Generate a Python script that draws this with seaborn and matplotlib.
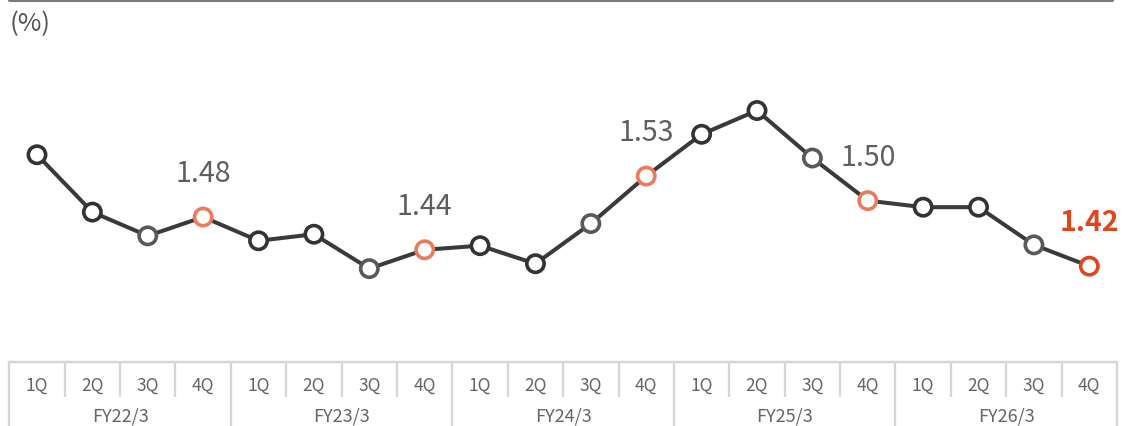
import numpy as np
import pandas as pd
import matplotlib
matplotlib.use("Agg")
import matplotlib.pyplot as plt
from matplotlib.lines import Line2D
import seaborn as sns

# Quarterly ratio (%), FY22/3 1Q through FY26/3 4Q
fiscal_years = ["FY22/3", "FY23/3", "FY24/3", "FY25/3", "FY26/3"]
quarters = ["1Q", "2Q", "3Q", "4Q"]
ratio = [1.556, 1.486, 1.457, 1.48,
         1.451, 1.459, 1.417, 1.44,
         1.445, 1.423, 1.472, 1.53,
         1.581, 1.610, 1.552, 1.50,
         1.492, 1.492, 1.446, 1.42]
# value labels shown above each fiscal year's 4Q point
labelled_values = {3: "1.48", 7: "1.44", 11: "1.53", 15: "1.50", 19: "1.42"}

sns.set_theme(style="white")
plt.rcParams["font.family"] = ["Noto Sans CJK JP", "DejaVu Sans"]

W, H, DPI = 1126, 427, 100
fig = plt.figure(figsize=(W / DPI, H / DPI), dpi=DPI)

n = len(ratio)
df = pd.DataFrame({"idx": np.arange(n), "ratio": ratio})

x0, x1 = 9.3 / W, 1117 / W
ax = fig.add_axes([x0, (H - 340) / H, x1 - x0, 300 / H])
ax.set_xlim(-0.5, n - 0.5)
ax.set_ylim(1.3311, 1.6973)
ax.axis("off")

line_col = "#3a3a3a"
sns.lineplot(data=df, x="idx", y="ratio", color=line_col, linewidth=2.9,
             ax=ax, zorder=2, legend=False)

edge_cols = []
for i in range(n):
    q = i % 4
    if i == n - 1:
        edge_cols.append("#e0461e")
    elif q == 3:
        edge_cols.append("#ee7a5e")
    elif q == 2:
        edge_cols.append("#595959")
    else:
        edge_cols.append("#333333")
ax.scatter(df["idx"], df["ratio"], s=155, facecolors="white",
           edgecolors=edge_cols, linewidths=2.6, zorder=3)

for i, txt in labelled_values.items():
    last = i == n - 1
    ax.annotate(txt, (i, ratio[i]), xytext=(0, 26), textcoords="offset points",
                ha="center", va="baseline",
                fontsize=20.5, color="#e0461e" if last else "#5e5e5e",
                fontweight="bold" if last else "normal")

# category table along the bottom
tax = fig.add_axes([x0, 0, x1 - x0, (H - 363.3) / H])
tax.set_xlim(-0.5, n - 0.5)
tax.set_ylim(0, 1)
tax.axis("off")
grid_col = "#d6d6d6"
q_div = 0.476
tax.plot([-0.5, n - 0.5], [1, 1], color=grid_col, lw=1.7, clip_on=False)
for b in range(n + 1):
    xb = b - 0.5
    full = b % 4 == 0
    tax.plot([xb, xb], [0 if full else q_div, 1], color=grid_col,
             lw=1.7, clip_on=False)
for i in range(n):
    tax.text(i, 0.648, quarters[i % 4], ha="center", va="center",
             fontsize=12.5, color="#666666")
for k, fy in enumerate(fiscal_years):
    tax.text(4 * k + 1.5, 0.162, fy, ha="center", va="center",
             fontsize=13, color="#666666")

# header rule and unit
fig.add_artist(Line2D([9.3 / W, 1112 / W], [(H - 1.3) / H] * 2,
                      color="#7a7a7a", lw=2.2))
fig.text(10 / W, (H - 24.5) / H, "(%)", ha="left", va="center",
         fontsize=18.5, color="#555555")

fig.savefig("out.png", dpi=DPI)
